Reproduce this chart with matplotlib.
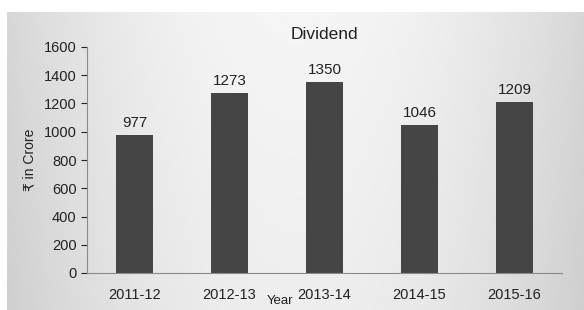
import numpy as np
import matplotlib
matplotlib.use('Agg')
import matplotlib.pyplot as plt

years = ['2011-12', '2012-13', '2013-14', '2014-15', '2015-16']
dividend = [977, 1273, 1350, 1046, 1209]
yticks = [0, 200, 400, 600, 800, 1000, 1200, 1400, 1600]

plt.rcParams['font.family'] = ['Liberation Sans', 'DejaVu Sans']

fig = plt.figure(figsize=(5.84, 3.10), dpi=100)
fig.patch.set_facecolor('white')

# gray gradient panel behind the chart
bg = fig.add_axes([7 / 584, 0, 1 - 7 / 584, 1 - 12 / 310])
xx = np.linspace(-1, 1, 300)
yy = np.linspace(0, 1, 160)
X, Y = np.meshgrid(xx, yy)
shade = 0.96 - 0.12 * X ** 2 - 0.03 * Y
bg.imshow(shade, cmap='gray', vmin=0, vmax=1, aspect='auto', extent=[0, 1, 0, 1])
bg.axis('off')

ax = fig.add_axes([87 / 584, 37 / 310, 475 / 584, 226 / 310])
ax.patch.set_alpha(0)
x = np.arange(len(years))
bars = ax.bar(x, dividend, width=0.39, color='#454545')
for b, v in zip(bars, dividend):
    ax.text(b.get_x() + b.get_width() / 2, v + 35, str(v), ha='center', va='bottom',
            fontsize=11, color='#222222')

ax.set_xlim(-0.5, len(years) - 0.5)
ax.set_ylim(0, 1600)
ax.set_yticks(yticks)
ax.set_xticks(x)
ax.set_xticklabels(years)
ax.tick_params(axis='x', length=0, labelsize=10.5, pad=11, colors='#222222')
ax.tick_params(axis='y', length=4, labelsize=10.5, colors='#222222', direction='out')
for s in ['top', 'right']:
    ax.spines[s].set_visible(False)
ax.spines['left'].set_color('#8a8a8a')
ax.spines['bottom'].set_color('#8a8a8a')

ax.set_title('Dividend', fontsize=12.5, color='#222222', pad=6)
ax.set_ylabel('₹ in Crore', fontsize=10, color='#222222', labelpad=5)
ax.set_xlabel('Year', fontsize=9.5, color='#222222')
ax.xaxis.set_label_coords((280 - 87) / 475, -22 / 226)

fig.savefig('out.png', dpi=100)
